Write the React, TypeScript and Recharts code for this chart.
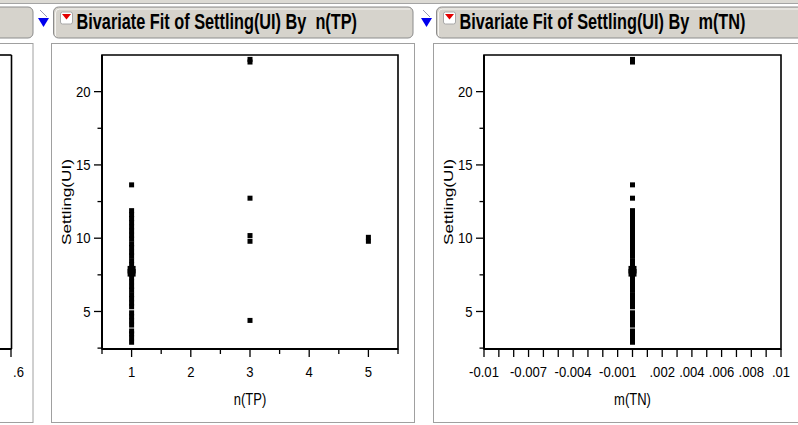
import React from 'react';
import { ScatterChart, Scatter, XAxis, YAxis, ReferenceArea } from 'recharts';

const FONT = '"Liberation Sans", Arial, Helvetica, sans-serif';

// Settling(UI) readings, grouped by their n(TP) level
const settlingAtN1 = [
  2.9, 3.2, 3.48, 3.67, 4.07, 4.36, 4.64, 4.91, 5.32, 5.58, 5.87, 6.15, 6.46, 6.72,
  7.03, 7.31, 7.58, 7.9, 8.2, 8.47, 8.79, 9.05, 9.36, 9.62, 9.94, 10.21, 10.5, 10.77,
  11.06, 11.34, 11.61, 11.88, 13.64,
];
// readings that coincide and print as a heavier mark
const settlingAtN1Coincident = [7.64, 7.85];
const settlingAtN3 = [22.2, 22.02, 12.73, 10.18, 9.79, 4.39];
const settlingAtN5 = [10.06, 9.79];
// every reading has m(TN) = 0
const mTnValue = 0;

const settlingDomain: [number, number] = [2.44, 22.5];
const settlingTicks = [2.5, 5, 7.5, 10, 12.5, 15, 17.5, 20];
const settlingTickLabels = ['', '5', '', '10', '', '15', '', '20'];

const nTpDomain: [number, number] = [0.5, 5.5];
const nTpTicks = [0.5, 1, 1.5, 2, 2.5, 3, 3.5, 4, 4.5, 5, 5.5];
const nTpTickLabels = ['', '1', '', '2', '', '3', '', '4', '', '5', ''];

const mTnDomain: [number, number] = [-0.01, 0.01];
const mTnTicks = [
  -0.01, -0.009, -0.008, -0.007, -0.006, -0.005, -0.004, -0.003, -0.002, -0.001, 0,
  0.001, 0.002, 0.003, 0.004, 0.005, 0.006, 0.007, 0.008, 0.009, 0.01,
];
const mTnTickLabels = [
  '-0.01', '', '', '-0.007', '', '', '-0.004', '', '', '-0.001', '',
  '', '.002', '', '.004', '', '.006', '', '.008', '', '.01',
];

type Pt = { x: number; y: number };
const toPoints = (x: number, ys: number[]): Pt[] => ys.map((y) => ({ x, y }));

const nTpPoints = [
  ...toPoints(1, settlingAtN1),
  ...toPoints(3, settlingAtN3),
  ...toPoints(5, settlingAtN5),
];
const nTpHeavy = toPoints(1, settlingAtN1Coincident);
const mTnPoints = toPoints(mTnValue, [...settlingAtN1, ...settlingAtN3, ...settlingAtN5]);
const mTnHeavy = toPoints(mTnValue, settlingAtN1Coincident);

const labelAt = (ticks: number[], labels: string[], v: number) => {
  const i = ticks.findIndex((t) => Math.abs(t - v) < 1e-9);
  return i >= 0 ? labels[i] : '';
};

type STextProps = {
  x: number;
  y: number;
  size: number;
  anchor?: 'start' | 'middle' | 'end';
  sx?: number;
  sy?: number;
  rotate?: number;
  weight?: string | number;
  children: React.ReactNode;
};

function SText({ x, y, size, anchor = 'start', sx = 1, sy = 1, rotate = 0, weight = 'normal', children }: STextProps) {
  return (
    <text
      transform={`translate(${x},${y}) rotate(${rotate}) scale(${sx},${sy})`}
      x={0}
      y={0}
      textAnchor={anchor}
      fontSize={size}
      fontFamily={FONT}
      fontWeight={weight}
      fill="#000"
      stroke="none"
      style={{ whiteSpace: 'pre' }}
    >
      {children}
    </text>
  );
}

const squareShape = (p: any) => (
  <rect x={p.cx - 2.5} y={p.cy - 2.5} width={5} height={5} fill="#000" />
);
const heavyShape = (p: any) => (
  <rect x={p.cx - 4} y={p.cy - 3.8} width={8} height={7.6} fill="#000" />
);

type PlotProps = {
  left: number;
  width: number;
  xName: string;
  xDomain: [number, number];
  xTicks: number[];
  xTickLabels: string[];
  shortMinor: boolean;
  points: Pt[];
  heavy: Pt[];
};

function BivariatePlot({ left, width, xName, xDomain, xTicks, xTickLabels, shortMinor, points, heavy }: PlotProps) {
  const renderXTick = (p: any) => {
    const label = labelAt(xTicks, xTickLabels, p.payload.value);
    const len = label || !shortMinor ? 8 : 5;
    return (
      <g>
        <line x1={p.x} x2={p.x} y1={p.y} y2={p.y + len} stroke="#000" strokeWidth={1.3} />
        {label ? (
          <SText x={p.x} y={p.y + 28} anchor="middle" size={13.5} sx={0.97} sy={1.12}>
            {label}
          </SText>
        ) : null}
      </g>
    );
  };
  const renderYTick = (p: any) => {
    const label = labelAt(settlingTicks, settlingTickLabels, p.payload.value);
    const len = label ? 8 : 4.5;
    return (
      <g>
        <line x1={p.x} x2={p.x - len} y1={p.y} y2={p.y} stroke="#000" strokeWidth={1.3} />
        {label ? (
          <SText x={p.x - 11.5} y={p.y + 5.2} anchor="end" size={13.5} sx={0.97} sy={1.1}>
            {label}
          </SText>
        ) : null}
      </g>
    );
  };
  const renderXLabel = (p: any) => {
    const vb = p.viewBox;
    return (
      <SText x={vb.x + vb.width / 2} y={vb.y + 56} anchor="middle" size={13} sy={1.25}>
        {xName}
      </SText>
    );
  };
  const renderYLabel = (p: any) => {
    const vb = p.viewBox;
    return (
      <SText x={vb.x + 19.5} y={vb.y + vb.height / 2} anchor="middle" size={13} rotate={-90} sx={1.32}>
        Settling(UI)
      </SText>
    );
  };

  return (
    <div style={{ position: 'absolute', left, top: 43 }}>
      <ScatterChart width={width} height={380} margin={{ top: 12, right: 17, bottom: 0, left: 0 }}>
        <XAxis
          type="number"
          dataKey="x"
          domain={xDomain}
          ticks={xTicks}
          interval={0}
          tickSize={0}
          tickMargin={0}
          tickLine={false}
          tick={renderXTick}
          axisLine={{ stroke: '#000', strokeWidth: 2 }}
          height={74}
          allowDataOverflow
          label={renderXLabel}
        />
        <YAxis
          type="number"
          dataKey="y"
          domain={settlingDomain}
          ticks={settlingTicks}
          interval={0}
          tickSize={0}
          tickMargin={0}
          tickLine={false}
          tick={renderYTick}
          axisLine={{ stroke: '#000', strokeWidth: 2 }}
          width={51}
          allowDataOverflow
          label={renderYLabel}
        />
        <ReferenceArea
          x1={xDomain[0]}
          x2={xDomain[1]}
          y1={settlingDomain[0]}
          y2={settlingDomain[1]}
          fill="none"
          stroke="#000"
          strokeWidth={1.6}
          ifOverflow="visible"
        />
        <Scatter data={points} shape={squareShape} isAnimationActive={false} />
        <Scatter data={heavy} shape={heavyShape} isAnimationActive={false} />
      </ScatterChart>
    </div>
  );
}

function Header({ x, w, title }: { x: number; w: number; title: string }) {
  return (
    <g>
      <rect x={x} y={7} width={w} height={31} rx={5} fill="#d6d3cc" stroke="#8c8c8c" />
      <path d={`M${x + 2} ${36} V${13} Q${x + 2} ${9} ${x + 6} ${9} H${x + w - 3}`} fill="none" stroke="#f6f5f2" strokeWidth={1} />
      <rect x={x + 7} y={12} width={12} height={12} rx={2} fill="#ffffff" stroke="#a8a8a8" />
      <polygon points={`${x + 8.5},14 ${x + 17.5},14 ${x + 13},19.5`} fill="#e30000" />
      <SText x={x + 23} y={29.3} size={16.3} sy={1.3} weight="bold">
        {title}
      </SText>
    </g>
  );
}

function Disclosure({ x }: { x: number }) {
  return (
    <g>
      <line x1={x + 2} y1={10} x2={x + 9} y2={17} stroke="#9a9ab4" strokeWidth={1} />
      <polygon points={`${x},18 ${x + 11},18 ${x + 5.5},27`} fill="#0000ee" />
    </g>
  );
}

export default function App() {
  return (
    <div style={{ position: 'absolute', left: 0, top: 0, width: 798, height: 425, overflow: 'hidden', background: '#ffffff' }}>
      <svg width={798} height={425} style={{ position: 'absolute', left: 0, top: 0 }}>
        <rect x={0} y={0} width={798} height={3} fill="#dcdad4" />
        <line x1={0} y1={3.5} x2={798} y2={3.5} stroke="#a4a4a4" />
        {/* neighbouring report, cut off at the left edge */}
        <rect x={-30} y={7} width={63} height={31} rx={5} fill="#d6d3cc" stroke="#8c8c8c" />
        <rect x={-30} y={43.5} width={63} height={379} fill="#ffffff" stroke="#a0a0a0" />
        <line x1={0} y1={55} x2={11.5} y2={55} stroke="#000" strokeWidth={1.6} />
        <line x1={11.5} y1={55} x2={11.5} y2={349} stroke="#000" strokeWidth={1.6} />
        <line x1={0} y1={349} x2={11.5} y2={349} stroke="#000" strokeWidth={2} />
        <line x1={11} y1={349} x2={11} y2={357} stroke="#000" strokeWidth={1.3} />
        <SText x={13} y={377} size={13.5} sx={0.97} sy={1.12}>.6</SText>
        {/* report panels */}
        <rect x={51.5} y={43.5} width={363} height={379} fill="#ffffff" stroke="#a0a0a0" />
        <rect x={433.5} y={43.5} width={380} height={379} fill="#ffffff" stroke="#a0a0a0" />
        <Disclosure x={38} />
        <Disclosure x={421} />
        <Header x={53.5} w={359.5} title="Bivariate Fit of Settling(UI) By  n(TP)" />
        <Header x={436.5} w={380} title="Bivariate Fit of Settling(UI) By  m(TN)" />
      </svg>
      <BivariatePlot
        left={51}
        width={364}
        xName="n(TP)"
        xDomain={nTpDomain}
        xTicks={nTpTicks}
        xTickLabels={nTpTickLabels}
        shortMinor
        points={nTpPoints}
        heavy={nTpHeavy}
      />
      <BivariatePlot
        left={433}
        width={365}
        xName="m(TN)"
        xDomain={mTnDomain}
        xTicks={mTnTicks}
        xTickLabels={mTnTickLabels}
        shortMinor={false}
        points={mTnPoints}
        heavy={mTnHeavy}
      />
    </div>
  );
}
